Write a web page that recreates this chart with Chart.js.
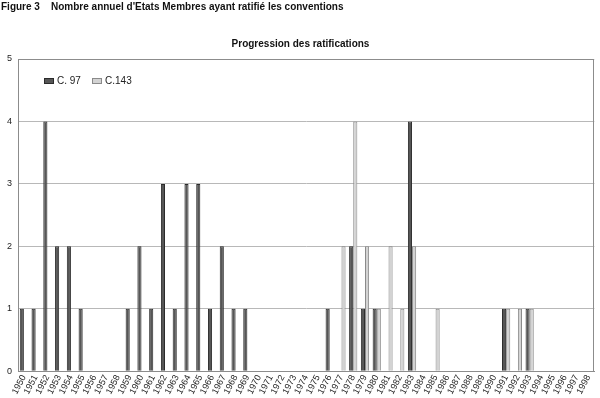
<!DOCTYPE html>
<html>
<head>
<meta charset="utf-8">
<script src="https://cdn.jsdelivr.net/npm/chart.js@4/dist/chart.umd.min.js"></script>
<style>
  html, body { margin: 0; padding: 0; background: #fff; }
  #wrap { width: 600px; height: 398px; }
</style>
</head>
<body>
<div id="wrap"><canvas id="ratChart" width="600" height="398"></canvas></div>
<script>
// Years on the category axis
const years = [];
for (let y = 1950; y <= 1998; y++) years.push(String(y));

// Ratifications per year
const c97 = [1, 1, 4, 2, 2, 1, 0, 0, 0, 1, 2, 1, 3, 1, 3, 3, 1, 2, 1, 1,
             0, 0, 0, 0, 0, 0, 1, 0, 2, 1, 1, 0, 0, 4, 0, 0, 0, 0, 0, 0,
             0, 1, 0, 1, 0, 0, 0, 0, 0];
const c143 = [0, 0, 0, 0, 0, 0, 0, 0, 0, 0, 0, 0, 0, 0, 0, 0, 0, 0, 0, 0,
              0, 0, 0, 0, 0, 0, 0, 2, 4, 2, 1, 2, 1, 2, 0, 1, 0, 0, 0, 0,
              0, 1, 1, 1, 0, 0, 0, 0, 0];

const yTicks = [0, 1, 2, 3, 4, 5];

const FONT = "'Liberation Sans', Arial, sans-serif";

// legend drawn inside the plot, top left
const innerLegend = {
    id: 'innerLegend',
    afterDraw(chart) {
        const ctx = chart.ctx;
        const area = chart.chartArea;
        let x = area.left + 26;
        const y = area.top + 22;
        ctx.save();
        ctx.font = '10px ' + FONT;
        ctx.textBaseline = 'middle';
        chart.data.datasets.forEach(ds => {
            ctx.fillStyle = ds.backgroundColor;
            ctx.fillRect(x, y - 3, 10, 6);
            ctx.strokeStyle = ds.borderColor;
            ctx.lineWidth = 1;
            ctx.strokeRect(x + 0.5, y - 3 + 0.5, 9, 5);
            ctx.fillStyle = '#222';
            ctx.fillText(ds.label, x + 13, y);
            x += 48;
        });
        ctx.restore();
    }
};

// box around the plot area
const plotBorder = {
    id: 'plotBorder',
    afterDatasetsDraw(chart) {
        const a = chart.chartArea;
        const ctx = chart.ctx;
        ctx.save();
        ctx.strokeStyle = '#8c8c8c';
        ctx.lineWidth = 1;
        ctx.strokeRect(Math.round(a.left) + 0.5, Math.round(a.top) + 0.5,
                       Math.round(a.right - a.left) - 1, Math.round(a.bottom - a.top));
        ctx.restore();
    }
};

const ctxRat = document.getElementById('ratChart').getContext('2d');
const ratChart = new Chart(ctxRat, {
    type: 'bar',
    data: {
        labels: years,
        datasets: [{
            label: 'C. 97',
            data: c97,
            backgroundColor: '#565656',
            borderColor: '#2b2b2b',
            borderWidth: 1
        }, {
            label: 'C.143',
            data: c143,
            backgroundColor: '#d3d3d3',
            borderColor: '#8a8a8a',
            borderWidth: 1
        }]
    },
    options: {
        responsive: false,
        animation: false,
        layout: { padding: { left: 1, right: 0, top: 0, bottom: 0 } },
        datasets: {
            bar: { categoryPercentage: 0.7, barPercentage: 1.0 }
        },
        plugins: {
            legend: { display: false },
            tooltip: { enabled: false },
            title: {
                display: true,
                text: "Figure 3    Nombre annuel d'Etats Membres ayant ratifié les conventions",
                align: 'start',
                color: '#111',
                font: { family: FONT, size: 10, weight: 'bold' },
                padding: { top: 1, bottom: 25 }
            },
            subtitle: {
                display: true,
                text: 'Progression des ratifications',
                color: '#111',
                font: { family: FONT, size: 10, weight: 'bold' },
                padding: { top: 0, bottom: 9 }
            }
        },
        scales: {
            x: {
                grid: { display: false, drawTicks: false },
                border: { display: true, color: '#8c8c8c' },
                ticks: {
                    autoSkip: false,
                    minRotation: 62,
                    maxRotation: 62,
                    padding: 2,
                    color: '#222',
                    font: { family: FONT, size: 9 }
                }
            },
            y: {
                min: 0,
                max: 5,
                afterBuildTicks: axis => { axis.ticks = yTicks.map(v => ({ value: v })); },
                grid: { color: '#b8b8b8', drawTicks: false },
                border: { display: true, color: '#8c8c8c' },
                ticks: {
                    padding: 6,
                    color: '#222',
                    font: { family: FONT, size: 9 }
                }
            }
        }
    },
    plugins: [innerLegend, plotBorder]
});
</script>
</body>
</html>
